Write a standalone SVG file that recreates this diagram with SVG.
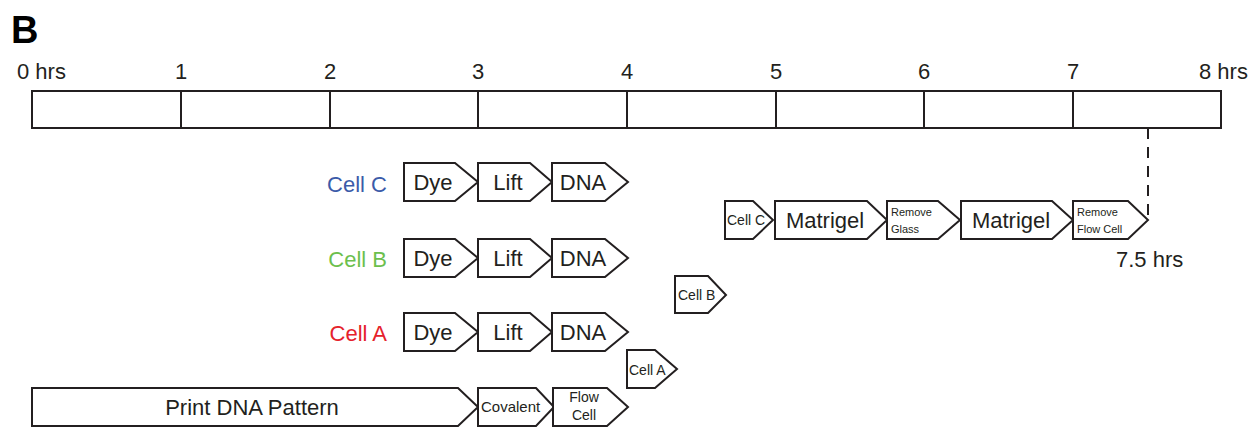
<svg xmlns="http://www.w3.org/2000/svg" width="1257" height="435" viewBox="0 0 1257 435">
<style>
text{font-family:"Liberation Sans",Arial,sans-serif;fill:#231f20}
.p{fill:#fff;stroke:#231f20;stroke-width:2;stroke-linejoin:miter}
.l{font-size:22px}
.m{font-size:22px;text-anchor:middle}
.s{font-size:14px}
.cv{font-size:15px}
.xs{font-size:11px}
.ln{stroke:#231f20;stroke-width:2;fill:none}
</style>
<rect width="1257" height="435" fill="#fff"/>
<text x="11" y="43" style="font-size:38px;font-weight:bold;fill:#000">B</text>
<g id="timeline">
<rect x="32" y="91" width="1189" height="37" class="ln"/>
<path class="ln" d="M181 91V128M330 91V128M478 91V128M627 91V128M776 91V128M924 91V128M1073 91V128"/>
<text class="l" x="17" y="79">0 hrs</text>
<text class="m" x="181" y="79">1</text>
<text class="m" x="330" y="79">2</text>
<text class="m" x="478" y="79">3</text>
<text class="m" x="627" y="79">4</text>
<text class="m" x="776" y="79">5</text>
<text class="m" x="924" y="79">6</text>
<text class="m" x="1073" y="79">7</text>
<text class="l" x="1199" y="79">8 hrs</text>
</g>
<g id="connectors">
<path class="ln" d="M1148 128V220" stroke-dasharray="11,8"/>
</g>
<g id="labelC"><text class="l" x="387" y="192" text-anchor="end" style="fill:#3b5ba9">Cell C</text></g>
<g id="labelB"><text class="l" x="387" y="267" text-anchor="end" style="fill:#6cbf4d">Cell B</text></g>
<g id="labelA"><text class="l" x="387" y="341" text-anchor="end" style="fill:#e5222b">Cell A</text></g>
<g id="c-dye"><polygon class="p" points="404,163 455,163 478,182 455,201 404,201"/><text class="m" x="433" y="190">Dye</text></g>
<g id="c-lift"><polygon class="p" points="478,163 530,163 552,182 530,201 478,201"/><text class="m" x="508" y="190">Lift</text></g>
<g id="c-dna"><polygon class="p" points="552,163 605,163 628,182 605,201 552,201"/><text class="m" x="583" y="190">DNA</text></g>
<g id="b-dye"><polygon class="p" points="404,239 455,239 478,258 455,277 404,277"/><text class="m" x="433" y="266">Dye</text></g>
<g id="b-lift"><polygon class="p" points="478,239 530,239 552,258 530,277 478,277"/><text class="m" x="508" y="266">Lift</text></g>
<g id="b-dna"><polygon class="p" points="552,239 605,239 628,258 605,277 552,277"/><text class="m" x="583" y="266">DNA</text></g>
<g id="a-dye"><polygon class="p" points="404,313 455,313 478,332 455,351 404,351"/><text class="m" x="433" y="340">Dye</text></g>
<g id="a-lift"><polygon class="p" points="478,313 530,313 552,332 530,351 478,351"/><text class="m" x="508" y="340">Lift</text></g>
<g id="a-dna"><polygon class="p" points="552,313 605,313 628,332 605,351 552,351"/><text class="m" x="583" y="340">DNA</text></g>
<g id="print"><polygon class="p" points="32,388 458,388 478,407 458,426 32,426"/><text class="m" x="252" y="415">Print DNA Pattern</text></g>
<g id="covalent"><polygon class="p" points="478,388 536,388 554,407 536,426 478,426"/><text class="cv" x="481" y="412">Covalent</text></g>
<g id="flowcell"><polygon class="p" points="553,388 607,388 628,407 607,426 553,426"/><text class="s" x="584" y="402" text-anchor="middle">Flow</text><text class="s" x="584" y="420" text-anchor="middle">Cell</text></g>
<g id="cellA-small"><polygon class="p" points="627,350 655,350 677,369 655,388 627,388"/><text class="s" x="629" y="375">Cell A</text></g>
<g id="cellB-small"><polygon class="p" points="675,276 708,276 726,295 708,313 675,313"/><text class="s" x="678" y="300">Cell B</text></g>
<g id="cellC-small"><polygon class="p" points="725,201 753,201 773,220 753,239 725,239"/><text class="s" x="727" y="225">Cell C</text></g>
<g id="matrigel1"><polygon class="p" points="775,201 867,201 887,220 867,239 775,239"/><text class="m" x="825" y="228">Matrigel</text></g>
<g id="removeglass"><polygon class="p" points="887,201 938,201 960,220 938,239 887,239"/><text class="xs" x="891" y="216">Remove</text><text class="xs" x="891" y="233">Glass</text></g>
<g id="matrigel2"><polygon class="p" points="961,201 1052,201 1073,220 1052,239 961,239"/><text class="m" x="1011" y="228">Matrigel</text></g>
<g id="removeflow"><polygon class="p" points="1073,201 1128,201 1148,220 1128,239 1073,239"/><text class="xs" x="1077" y="216">Remove</text><text class="xs" x="1077" y="233">Flow Cell</text></g>
<g id="end"><text class="l" x="1116" y="267">7.5 hrs</text></g>
</svg>
